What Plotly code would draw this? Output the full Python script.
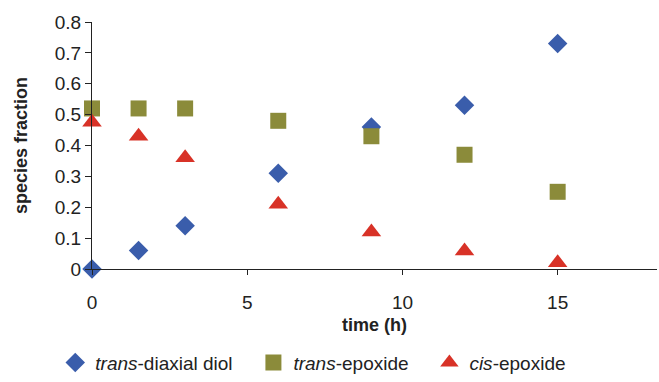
import plotly.graph_objects as go

time_h = [0, 1.5, 3, 6, 9, 12, 15]
diol = [0.0, 0.06, 0.14, 0.31, 0.46, 0.53, 0.73]
trans_epoxide = [0.52, 0.52, 0.52, 0.48, 0.43, 0.37, 0.25]
cis_epoxide = [0.475, 0.43, 0.36, 0.21, 0.12, 0.058, 0.02]
x_ticks = [0, 5, 10, 15]

fig = go.Figure()
fig.add_trace(go.Scatter(x=time_h, y=diol, mode="markers", cliponaxis=False,
                         name="<i>trans</i>-diaxial diol&nbsp;&nbsp;&nbsp;",
                         marker=dict(symbol="diamond", size=15, color="#3a5dab")))
fig.add_trace(go.Scatter(x=time_h, y=trans_epoxide, mode="markers", cliponaxis=False,
                         name="<i>trans</i>-epoxide&nbsp;&nbsp;&nbsp;",
                         marker=dict(symbol="square", size=16, color="#8b8b3a")))
fig.add_trace(go.Scatter(x=time_h, y=cis_epoxide, mode="markers", cliponaxis=False,
                         name="<i>cis</i>-epoxide",
                         marker=dict(symbol="triangle-up", size=17, color="#d83227")))

font_family = "Liberation Sans, Arial, sans-serif"
fig.update_layout(
    width=659, height=382, autosize=False,
    margin=dict(l=92, r=2, t=22, b=112),
    plot_bgcolor="white", paper_bgcolor="white",
    font=dict(family=font_family, size=19, color="#222222"),
    xaxis=dict(range=[0, 18.2], tickvals=x_ticks, showgrid=False, zeroline=False,
               showline=True, linecolor="#222222", linewidth=1.2, automargin=False,
               ticks="outside", ticklen=16, tickcolor="rgba(0,0,0,0)",
               minor=dict(tickvals=x_ticks, ticks="outside", ticklen=5, tickcolor="#222222", showgrid=False),
               title=dict(text="<b>time (h)</b>", font=dict(size=18), standoff=6)),
    yaxis=dict(range=[0, 0.8], dtick=0.1, tickformat=".1~f", showgrid=False, zeroline=False,
               showline=True, linecolor="#222222", linewidth=1.2, automargin=False,
               ticks="outside", ticklen=6, tickcolor="#222222",
               title=dict(text="<b>species fraction</b>", font=dict(size=18), standoff=22)),
    legend=dict(orientation="h", x=-0.065, xanchor="left", y=-0.45, yanchor="bottom",
                font=dict(size=19), itemwidth=30, tracegroupgap=0),
    showlegend=True,
)
fig.write_html("out.html", config={"displayModeBar": False},
               post_script="document.body.style.margin='0';")
